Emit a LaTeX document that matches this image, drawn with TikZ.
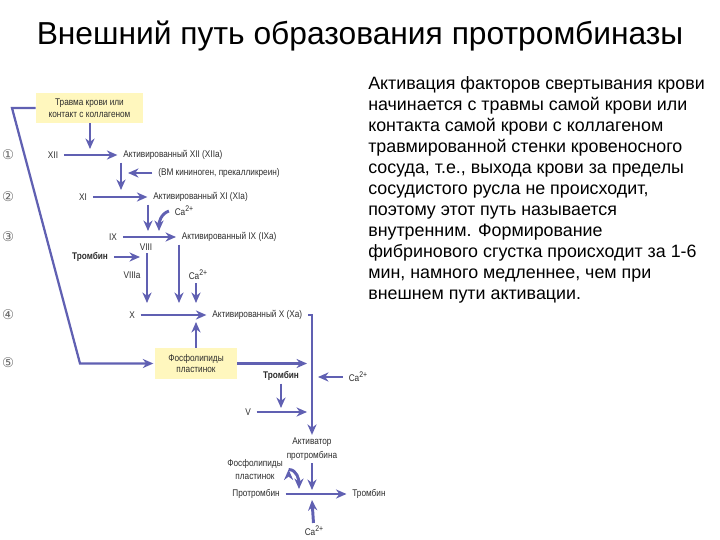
\documentclass[tikz,border=0pt]{standalone}
\usepackage{fontspec}
\setmainfont{Liberation Sans}
\newfontfamily\circfont{DejaVu Sans}
\newfontfamily\condfont[FakeStretch=0.85]{Liberation Sans}
\usepackage{xcolor}
\usepackage{tikz}
\usetikzlibrary{arrows.meta,positioning}
\definecolor{flowblue}{RGB}{96,96,178}
\definecolor{padyellow}{RGB}{255,247,190}
\definecolor{inkgray}{RGB}{45,45,45}
\newcommand{\caion}{Ca\raisebox{0.8ex}{\fontsize{5.8}{6}\selectfont 2+}}
\tikzset{>={Stealth[length=7.5pt,width=6.5pt]}}
\tikzset{fac node/.style={font=\condfont\fontsize{6.9}{9.5}\selectfont,text=inkgray,inner xsep=4pt,inner ysep=2pt},
         thr node/.style={fac node,font=\condfont\fontsize{6.9}{9.5}\selectfont\bfseries},
         yellow node/.style={fill=padyellow,align=center,font=\condfont\fontsize{6.9}{8.2}\selectfont,text=inkgray,inner sep=0pt},
         num node/.style={font=\circfont\fontsize{9.5}{9.5}\selectfont,text=black!60},
         flow/.style={draw=flowblue,line width=2.1pt,->},
            }

\begin{document}
\begin{tikzpicture}[x=0.25mm,y=-0.25mm]
    \useasboundingbox (0,0) rectangle (720,540);

    \node[font=\fontsize{22.6}{27}\selectfont] (title) at (360,36) {Внешний путь образования протромбиназы};
    \node[font=\fontsize{12.7}{14.9}\selectfont,align=left,anchor=north west,inner sep=0pt] (note) at (368,76.5)
    {Активация факторов свертывания крови\\
     начинается с травмы самой крови или\\
     контакта самой крови с коллагеном\\
     травмированной стенки кровеносного\\
     сосуда, т.е., выхода крови за пределы\\
     сосудистого русла не происходит,\\
     поэтому этот путь называется\\
     внутренним. Формирование\\
     фибринового сгустка происходит за 1-6\\
     мин, намного медленнее, чем при\\
     внешнем пути активации.};

    \node[num node] (n1) at (8,155) {①};
    \node[num node] (n2) at (8,197) {②};
    \node[num node] (n3) at (8,237) {③};
    \node[num node] (n4) at (8,315) {④};
    \node[num node] (n5) at (8,363) {⑤};

    \node[yellow node,minimum width=26.75mm,minimum height=7.5mm] (trauma) at (89.5,108) {Травма крови или\\контакт с коллагеном};
    \node[fac node] (xii) at (53,155) {XII};
    \node[fac node,anchor=west] (xiia) at (117.4,155) {Активированный XII (XIIa)};
    \node[fac node,anchor=west] (hmw) at (152.4,173) {(ВМ кининоген, прекалликреин)};
    \node[fac node] (xi) at (83,197) {XI};
    \node[fac node,anchor=west] (xia) at (147.4,197) {Активированный XI (XIa)};
    \node[fac node] (ca1) at (184,211) {\caion};
    \node[fac node] (ix) at (113,237) {IX};
    \node[fac node,anchor=west] (ixa) at (176,237) {Активированный IX (IXa)};
    \node[fac node] (viii) at (146,247) {VIII};
    \node[thr node] (thr1) at (90,257) {Тромбин};
    \node[fac node] (viiia) at (132,275) {VIIIa};
    \node[fac node] (ca2) at (198,275) {\caion};
    \node[fac node] (x) at (132,315) {X};
    \node[fac node,anchor=west] (xa) at (206.4,315) {Активированный X (Xa)};
    \node[yellow node,minimum width=20.5mm,minimum height=7.75mm] (phos1) at (196,363.5) {Фосфолипиды\\пластинок};
    \node[thr node] (thr2) at (281,376) {Тромбин};
    \node[fac node] (ca3) at (358,377) {\caion};
    \node[fac node] (v) at (248,412) {V};
    \node[fac node,align=center] (act) at (312,449) {Активатор\\протромбина};
    \node[fac node,align=center] (phos2) at (255,469.5) {Фосфолипиды\\пластинок};
    \node[fac node] (pro) at (256,494) {Протромбин};
    \node[fac node] (thr3) at (369,494) {Тромбин};
    \node[fac node] (ca4) at (314,531) {\caion};

    \coordinate (j1) at (90,149);
    \coordinate (j2) at (121,190);
    \coordinate (j3) at (128,173);
    \coordinate (j4) at (148,231);
    \coordinate (j5) at (159,231);
    \coordinate (j6) at (140,257);
    \coordinate (j7) at (147,303);
    \coordinate (j8) at (179,303);
    \coordinate (j9) at (196,303);
    \coordinate (j10) at (196,322);
    \coordinate (j11) at (307,363.5);
    \coordinate (j12) at (318,377);
    \coordinate (j13) at (281,408);
    \coordinate (j14) at (307,412);
    \coordinate (j15) at (312,490);
    \coordinate (j16) at (299,489);
    \coordinate (j17) at (312,500);
    \coordinate (b1) at (12,108);
    \coordinate (b2) at (80,363.5);

    \path[flow]
    (trauma.south -| j1) edge (j1)
    (xii) edge (xiia)
    (xiia.south west -| j2) edge (j2)
    (hmw) edge (j3)
    (xi) edge (xia)
    (xia.south west -| j4) edge (j4)
    (ca1.west) edge[out=200,in=90] (j5)
    (ix) edge (ixa)
    (thr1) edge (j6)
    (viii.south -| j7) edge (j7)
    (ixa.south west -| j8) edge (j8)
    (ca2.south -| j9) edge (j9)
    (x) edge (xa)
    (phos1.north -| j10) edge (j10)
    (phos1) edge (j11)
    (ca3) edge (j12)
    (thr2) edge (j13)
    (v) edge (j14)
    (act) edge (j15)
    (phos2.east) edge[out=0,in=90] (j16)
    (ca4) edge (j17)
    (pro) edge (thr3);

    \draw[flow] (xa.east) -| (act.north);
    \draw[flow,line width=1.6pt,shorten >=1pt] (trauma.west) -- (b1) -- (b2) -- (phos1.west);

\end{tikzpicture}
\end{document}
